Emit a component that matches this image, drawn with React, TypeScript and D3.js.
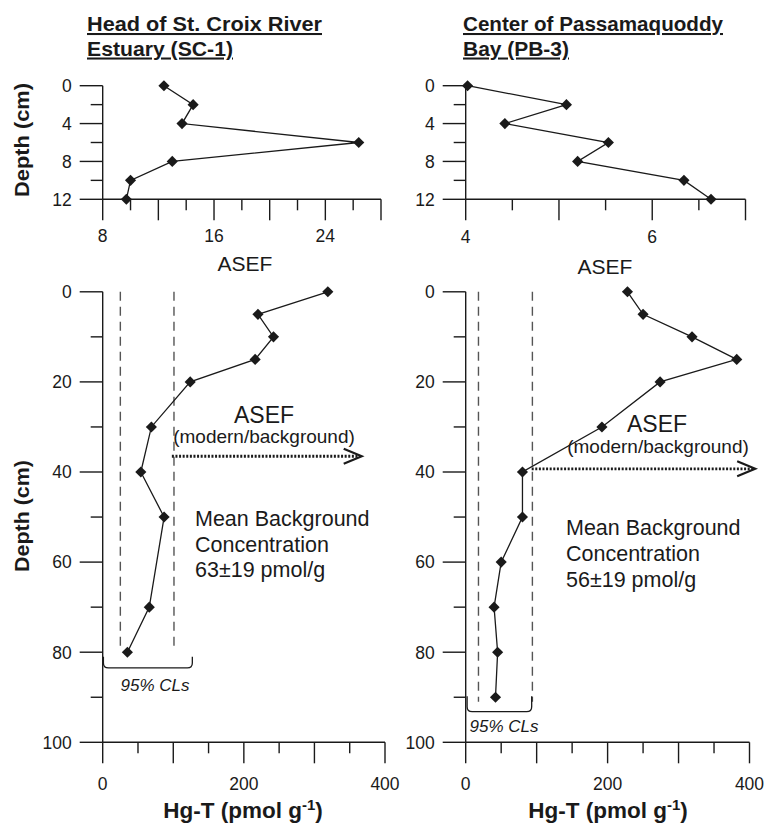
import * as d3 from 'd3';
import React from 'react';

// top panels: ASEF vs depth (0-12 cm)
const depthTop = [0, 2, 4, 6, 8, 10, 12];
const asefSC1 = [12.4, 14.5, 13.7, 26.4, 13.0, 10.0, 9.7];
const asefPB3 = [4.02, 5.08, 4.42, 5.53, 5.2, 6.34, 6.63];

// bottom panels: Hg-T vs depth
const depthSC1 = [0, 5, 10, 15, 20, 30, 40, 50, 70, 80];
const hgSC1 = [319, 220, 242, 216, 124, 69, 54, 87, 66, 35];
const depthPB3 = [0, 5, 10, 15, 20, 30, 40, 50, 60, 70, 80, 90];
const hgPB3 = [228, 250, 319, 382, 274, 192, 80, 80, 50, 40, 45, 42];

// 95% confidence limits on background concentration
const clSC1 = [25, 101];
const clPB3 = [18, 94];
const clDepthSC1 = 79;
const clDepthPB3 = 91;

// tick labels
const asefTicksSC1 = [8, 16, 24];
const asefTicksPB3 = [4, 6];
const depthTicksTop = [0, 4, 8, 12];
const depthTicksBottom = [0, 20, 40, 60, 80, 100];
const hgTicks = [0, 200, 400];

const titlesSC1 = ['Head of St. Croix River', 'Estuary (SC-1)'];
const titlesPB3 = ['Center of Passamaquoddy', 'Bay (PB-3)'];
const meanSC1 = ['Mean Background', 'Concentration', '63\u00b119 pmol/g'];
const meanPB3 = ['Mean Background', 'Concentration', '56\u00b119 pmol/g'];

const FONT = '"Liberation Sans", Arial, Helvetica, sans-serif';
const INK = '#1a1a1a';

type Sc = d3.ScaleLinear<number, number>;

function Axes(props: {
  x: Sc; y: Sc;
  xMajor: number[]; xMinor: number[]; xLabels: number[];
  yMajor: number[]; yMinor: number[]; yLabels: number[];
  xLabelOffset: number;
}) {
  const { x, y, xMajor, xMinor, xLabels, yMajor, yMinor, yLabels, xLabelOffset } = props;
  const x0 = x.range()[0], x1 = x.range()[1];
  const y0 = y.range()[0], y1 = y.range()[1];
  return (
    <g stroke={INK} strokeWidth={1.4} fill="none">
      <line x1={x0} x2={x0} y1={y0} y2={y1} />
      <line x1={x0} x2={x1} y1={y1} y2={y1} />
      {yMajor.map(d => <line key={'ym' + d} x1={x0 - 23} x2={x0} y1={y(d)} y2={y(d)} />)}
      {yMinor.map(d => <line key={'yn' + d} x1={x0 - 12} x2={x0} y1={y(d)} y2={y(d)} />)}
      {xMajor.map(d => <line key={'xm' + d} x1={x(d)} x2={x(d)} y1={y1} y2={y1 + 21} />)}
      {xMinor.map(d => <line key={'xn' + d} x1={x(d)} x2={x(d)} y1={y1} y2={y1 + 11} />)}
      <g stroke="none" fill={INK} fontSize={17.5} fontFamily={FONT}>
        {yLabels.map(d => (
          <text key={'yl' + d} x={x0 - 31} y={y(d)} dy="0.36em" textAnchor="end">{d}</text>
        ))}
        {xLabels.map(d => (
          <text key={'xl' + d} x={x(d)} y={y1 + xLabelOffset} textAnchor="middle">{d}</text>
        ))}
      </g>
    </g>
  );
}

function Profile(props: { x: Sc; y: Sc; xs: number[]; ys: number[] }) {
  const { x, y, xs, ys } = props;
  const pts: [number, number][] = xs.map((v, i) => [v, ys[i]]);
  const line = d3.line<[number, number]>().x(d => x(d[0])).y(d => y(d[1]));
  const diamond = d3.symbol(d3.symbolSquare, 62)();
  return (
    <g>
      <path d={line(pts) || ''} fill="none" stroke={INK} strokeWidth={1.3} />
      {pts.map((d, i) => (
        <path key={i} d={diamond || ''} fill={INK}
          transform={`translate(${x(d[0])},${y(d[1])}) rotate(45)`} />
      ))}
    </g>
  );
}

function Bracket(props: { x: Sc; y: Sc; from: number; to: number; top: number; bottom: number }) {
  const { x, y, from, to, top, bottom } = props;
  const xa = x(from), xb = x(to), ya = y(top), yb = y(bottom);
  const r = 5;
  const d = `M${xa},${ya} L${xa},${yb - r} Q${xa},${yb} ${xa + r},${yb} L${xb - r},${yb} Q${xb},${yb} ${xb},${yb - r} L${xb},${ya}`;
  return <path d={d} fill="none" stroke={INK} strokeWidth={1.3} />;
}

function Arrow(props: { x: Sc; y: Sc; from: number; to: number; depth: number }) {
  const { x, y, from, to, depth } = props;
  const xa = x(from), xb = x(to), yy = y(depth);
  return (
    <g fill="none" stroke={INK}>
      <line x1={xa} x2={xb - 2} y1={yy} y2={yy} strokeWidth={2.8} strokeDasharray="2 1.6" />
      <path d={`M${xb - 18},${yy - 7.5} L${xb},${yy} L${xb - 18},${yy + 7.5}`} strokeWidth={2.2} />
    </g>
  );
}

function Title(props: { x: number; lines: string[]; widths: number[] }) {
  return (
    <g fontFamily={FONT} fontWeight="bold" fontSize={20.5} fill={INK}>
      {props.lines.map((t, i) => (
        <text key={i} x={props.x} y={31 + i * 24.5} textDecoration="underline"
          textLength={props.widths[i]} lengthAdjust="spacingAndGlyphs">{t}</text>
      ))}
    </g>
  );
}

export default function App() {
  const range = (a: number, b: number, s: number) => d3.range(a, b + s / 2, s);

  const yTop = d3.scaleLinear().domain([0, 12]).range([85.7, 199.3]);
  const xTL = d3.scaleLinear().domain([8, 28]).range([102.7, 381]);
  const xTR = d3.scaleLinear().domain([4, 7]).range([465.7, 745.5]);
  const yBot = d3.scaleLinear().domain([0, 100]).range([291.8, 742.3]);
  const xBL = d3.scaleLinear().domain([0, 400]).range([102.7, 385]);
  const xBR = d3.scaleLinear().domain([0, 400]).range([465.7, 749.5]);

  const depthMajorTop = range(0, 12, 4);
  const depthMinorTop = range(2, 10, 4);
  const depthMajorBot = range(0, 100, 20);
  const depthMinorBot = range(10, 90, 20);

  return (
    <svg width={764} height={825} style={{ position: 'absolute', left: 0, top: 0, background: '#fff' }}
      fontFamily={FONT}>
      <Title x={87} lines={titlesSC1} widths={[235, 146]} />
      <Title x={463} lines={titlesPB3} widths={[260, 106]} />

      {/* top panels */}
      <Axes x={xTL} y={yTop} xMajor={range(8, 28, 4)} xMinor={range(10, 26, 4)} xLabels={asefTicksSC1}
        yMajor={depthMajorTop} yMinor={depthMinorTop} yLabels={depthTicksTop} xLabelOffset={43} />
      <Axes x={xTR} y={yTop} xMajor={range(4, 7, 1)} xMinor={range(4.5, 6.5, 1)} xLabels={asefTicksPB3}
        yMajor={depthMajorTop} yMinor={depthMinorTop} yLabels={depthTicksTop} xLabelOffset={44} />
      <Profile x={xTL} y={yTop} xs={asefSC1} ys={depthTop} />
      <Profile x={xTR} y={yTop} xs={asefPB3} ys={depthTop} />
      <text x={245} y={271} textAnchor="middle" fontSize={21} fill={INK}>ASEF</text>
      <text x={605} y={274} textAnchor="middle" fontSize={21} fill={INK}>ASEF</text>

      {/* bottom panels */}
      <Axes x={xBL} y={yBot} xMajor={range(0, 400, 100)} xMinor={range(50, 350, 100)} xLabels={hgTicks}
        yMajor={depthMajorBot} yMinor={depthMinorBot} yLabels={depthTicksBottom} xLabelOffset={47.5} />
      <Axes x={xBR} y={yBot} xMajor={range(0, 400, 100)} xMinor={range(50, 350, 100)} xLabels={hgTicks}
        yMajor={depthMajorBot} yMinor={depthMinorBot} yLabels={depthTicksBottom} xLabelOffset={47.5} />

      <g stroke="#555" strokeWidth={1.4} strokeDasharray="9 6">
        {clSC1.map(v => <line key={'a' + v} x1={xBL(v)} x2={xBL(v)} y1={yBot(0)} y2={yBot(clDepthSC1)} />)}
        {clPB3.map(v => <line key={'b' + v} x1={xBR(v)} x2={xBR(v)} y1={yBot(0)} y2={yBot(clDepthPB3)} />)}
      </g>

      <Bracket x={xBL} y={yBot} from={1} to={127} top={81} bottom={83.5} />
      <Bracket x={xBR} y={yBot} from={2} to={93} top={89.8} bottom={93.2} />
      <text x={155} y={691} textAnchor="middle" fontSize={17} fontStyle="italic" fill={INK}>95% CLs</text>
      <text x={504} y={732} textAnchor="middle" fontSize={17} fontStyle="italic" fill={INK}>95% CLs</text>

      <Profile x={xBL} y={yBot} xs={hgSC1} ys={depthSC1} />
      <Profile x={xBR} y={yBot} xs={hgPB3} ys={depthPB3} />

      <Arrow x={xBL} y={yBot} from={98} to={367} depth={36.5} />
      <Arrow x={xBR} y={yBot} from={93} to={408} depth={39.3} />

      <g fill={INK} textAnchor="middle">
        <text x={264} y={423} fontSize={23}>ASEF</text>
        <text x={264} y={443} fontSize={19}>(modern/background)</text>
        <text x={657} y={432} fontSize={23}>ASEF</text>
        <text x={658} y={453} fontSize={19}>(modern/background)</text>
      </g>

      <g fill={INK} fontSize={21.5}>
        {meanSC1.map((t, i) => <text key={'m' + i} x={195} y={526 + i * 25.5}>{t}</text>)}
        {meanPB3.map((t, i) => <text key={'n' + i} x={566} y={535 + i * 26}>{t}</text>)}
      </g>

      <g fill={INK} fontWeight="bold" fontSize={21}>
        <text transform="translate(29,140) rotate(-90)" textAnchor="middle"
          textLength={114} lengthAdjust="spacingAndGlyphs">Depth (cm)</text>
        <text transform="translate(29,516) rotate(-90)" textAnchor="middle"
          textLength={112} lengthAdjust="spacingAndGlyphs">Depth (cm)</text>
      </g>

      <g fill={INK} fontWeight="bold" fontSize={22.5} textAnchor="middle">
        <text x={243} y={818}>Hg-T (pmol g<tspan dy={-8} fontSize={15}>-1</tspan><tspan dy={8}>)</tspan></text>
        <text x={608} y={818}>Hg-T (pmol g<tspan dy={-8} fontSize={15}>-1</tspan><tspan dy={8}>)</tspan></text>
      </g>
    </svg>
  );
}
